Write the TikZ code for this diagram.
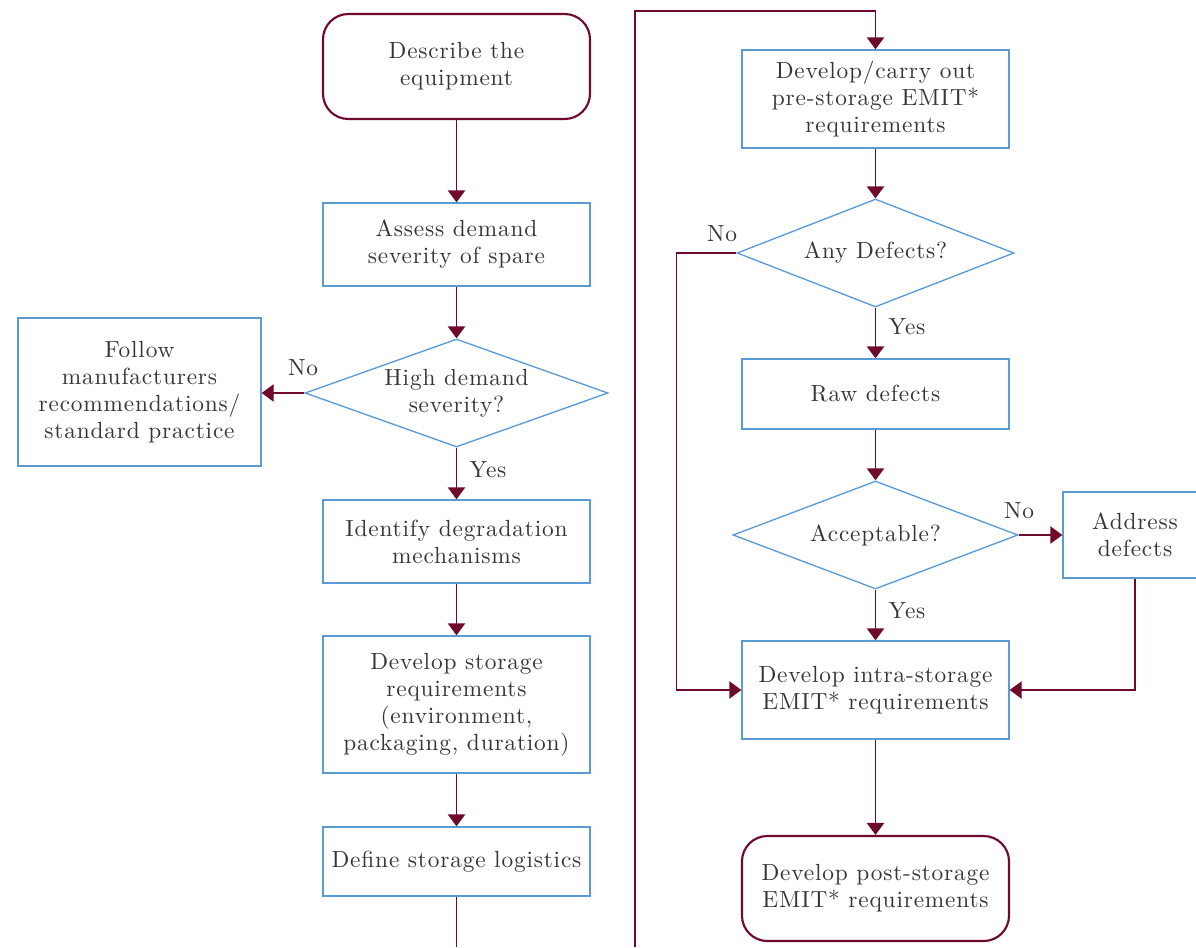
\documentclass[tikz,border=0pt]{standalone}
\usepackage{fontspec}
\setmainfont{lmroman10-regular.otf}[LetterSpace=3.5]
\usetikzlibrary{shapes.geometric,arrows.meta}
\definecolor{maroon}{HTML}{6E0A2A}
\definecolor{boxblue}{HTML}{5B9BD5}
\definecolor{txt}{HTML}{353535}
\begin{document}
\begin{tikzpicture}[x=0.75pt,y=-0.75pt,
  every node/.style={font=\fontsize{17.5}{20.25}\selectfont, text=txt, align=center},
  box/.style={draw=boxblue, line width=1pt, minimum width=200.25pt, inner sep=2pt},
  term/.style={draw=maroon, line width=1.6pt, rounded corners=19pt, minimum width=200.25pt, minimum height=78.75pt},
  dec/.style={diamond, draw=boxblue, line width=1pt, inner sep=0pt},
  conn/.style={draw=maroon, line width=1pt, -{Triangle[width=13pt,length=9pt]}},
  plain/.style={draw=maroon, line width=1pt},
  lbl/.style={inner sep=1pt}]
\useasboundingbox (0,0) rectangle (1196,947);
% left column
\node[term] (describe) at (456.5,66.5) {Describe the\\equipment};
\node[box, minimum height=62.25pt] (assess) at (456.5,244.5) {Assess demand\\severity of spare};
\node[dec, aspect=2.806, minimum width=227.25pt, minimum height=81pt] (high) at (456.5,393) {High demand\\severity?};
\node[box, minimum width=182.25pt, minimum height=111pt] (follow) at (139.5,392) {Follow\\manufacturers\\recommendations/\\standard practice};
\node[box, minimum height=62.25pt] (identify) at (456.5,541.5) {Identify degradation\\mechanisms};
\node[box, minimum height=102.75pt] (storage) at (456.5,704.5) {Develop storage\\requirements\\(environment,\\packaging, duration)};
\node[box, minimum height=51.75pt] (logistics) at (456.5,861.5) {Define storage logistics};
% right column
\node[box, minimum height=73.5pt] (pre) at (875.5,99) {Develop/carry out\\pre-storage EMIT*\\requirements};
\node[dec, aspect=2.565, minimum width=207.75pt, minimum height=81pt] (anydef) at (875.5,253) {Any Defects?};
\node[box, minimum height=52.5pt] (raw) at (875.5,394) {Raw defects};
\node[dec, aspect=2.639, minimum width=213.75pt, minimum height=81pt] (accept) at (875.5,535) {Acceptable?};
\node[box, minimum width=108pt, minimum height=64.5pt] (address) at (1135,535) {Address\\defects};
\node[box, minimum height=73.5pt] (intra) at (875.5,690) {Develop intra-storage\\EMIT* requirements};
\node[term] (post) at (875.5,888.5) {Develop post-storage\\EMIT* requirements};
% free ends
\coordinate (bot1) at (456.5,947);
\coordinate (bot2) at (635,947);
\coordinate (top) at (635,11);
% connectors
\draw[conn] (describe) -- (assess);
\draw[conn] (assess) -- (high);
\draw[conn] (high.west) -- (high.west -| follow.east);
\draw[conn] (high) -- (identify);
\draw[conn] (identify) -- (storage);
\draw[conn] (storage) -- (logistics);
\draw[plain] (logistics.south) -- (bot1);
\draw[conn] (bot2) -- (top) -| (pre.north);
\draw[conn] (pre) -- (anydef);
\draw[conn] (anydef.west) -- ++(-60,0) |- (intra.west);
\draw[conn] (anydef) -- (raw);
\draw[conn] (raw) -- (accept);
\draw[conn] (accept.east) -- (accept.east -| address.west);
\draw[conn] (address.south) |- (intra.east);
\draw[conn] (accept) -- (intra);
\draw[conn] (intra) -- (post);
% labels
\node[lbl] (no1) at (303,368) {No};
\node[lbl] (yes1) at (488,470) {Yes};
\node[lbl] (no2) at (722,234) {No};
\node[lbl] (yes2) at (907,327) {Yes};
\node[lbl] (no3) at (1019,511) {No};
\node[lbl] (yes3) at (907,611) {Yes};
\end{tikzpicture}
\end{document}
